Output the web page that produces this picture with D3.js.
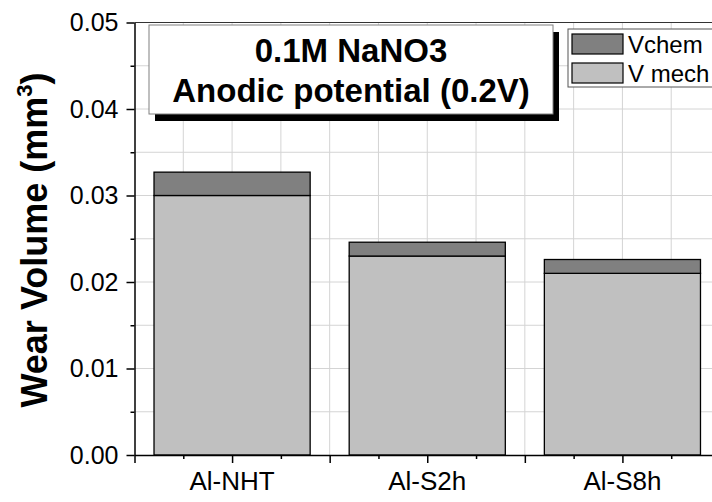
<!DOCTYPE html>
<html>
<head>
<meta charset="utf-8">
<script src="https://cdn.jsdelivr.net/npm/d3@7/dist/d3.min.js"></script>
<style>
  html, body { margin: 0; padding: 0; background: #fff; }
  svg { display: block; font-family: "Liberation Sans", Arial, sans-serif; }
</style>
</head>
<body>
<svg id="chart" width="712" height="502"></svg>
<script>
// values
const categories = ['Al-NHT', 'Al-S2h', 'Al-S8h'];
const vMech = [0.0300, 0.0230, 0.0210];
const vChem = [0.0027, 0.0016, 0.0016];
const yTicks = [0, 0.01, 0.02, 0.03, 0.04, 0.05];
const yMinor = [0.005, 0.015, 0.025, 0.035, 0.045];
const seriesNames = ['Vchem', 'V mech'];
const seriesColors = ['#808080', '#c0c0c0'];
const titleLines = ['0.1M NaNO3', 'Anodic potential (0.2V)'];

const svg = d3.select('#chart');
const plotL = 134.5, plotR = 720, plotT = 22.5, plotB = 455;

// band scale for bars, linear one for the ticks (category i sits at i + 1)
const x = d3.scaleBand().domain(categories).range([plotL, plotR])
  .paddingInner(0.2).paddingOuter(0.1);
const xl = d3.scaleLinear().domain([0.5, 3.5]).range([plotL, plotR]);
const y = d3.scaleLinear().domain([0, 0.05]).range([plotB, plotT]);

// grid
const grid = svg.append('g').attr('stroke', '#d4d4d4').attr('stroke-width', 1);
grid.selectAll('line.h').data(yTicks.concat(yMinor).filter(d => d > 0)).enter()
  .append('line').attr('class', 'h')
  .attr('x1', plotL).attr('x2', 712)
  .attr('y1', d => y(d)).attr('y2', d => y(d));
grid.selectAll('line.v').data(d3.range(0.75, 3.5, 0.25)).enter()
  .append('line').attr('class', 'v')
  .attr('x1', d => xl(d)).attr('x2', d => xl(d))
  .attr('y1', plotT).attr('y2', plotB);

// stacked bars
const stacks = categories.map((c, i) => ({c, mech: vMech[i], chem: vChem[i]}));
const bars = svg.append('g').attr('stroke', '#000').attr('stroke-width', 1.3);
bars.selectAll('rect.mech').data(stacks).enter().append('rect')
  .attr('x', d => x(d.c)).attr('width', x.bandwidth())
  .attr('y', d => y(d.mech)).attr('height', d => y(0) - y(d.mech))
  .attr('fill', seriesColors[1]);
bars.selectAll('rect.chem').data(stacks).enter().append('rect')
  .attr('x', d => x(d.c)).attr('width', x.bandwidth())
  .attr('y', d => y(d.mech + d.chem)).attr('height', d => y(d.mech) - y(d.mech + d.chem))
  .attr('fill', seriesColors[0]);

// top frame line
svg.append('line').attr('x1', plotL).attr('x2', 712).attr('y1', plotT).attr('y2', plotT)
  .attr('stroke', '#333').attr('stroke-width', 1.2);

// y axis
const yAxis = svg.append('g').attr('transform', `translate(${plotL},0)`)
  .call(d3.axisLeft(y).tickValues(yTicks).tickFormat(d3.format('.2f'))
    .tickSize(8).tickPadding(8).tickSizeOuter(0));
svg.append('g').attr('transform', `translate(${plotL},0)`)
  .call(d3.axisLeft(y).tickValues(yMinor).tickFormat('').tickSize(4).tickSizeOuter(0))
  .select('.domain').remove();
yAxis.selectAll('text').attr('font-size', 25).attr('fill', '#000')
  .attr('font-family', '"Liberation Sans", Arial, sans-serif');

// x axis
svg.append('g').attr('transform', `translate(0,${plotB})`)
  .call(d3.axisBottom(xl).tickValues(d3.range(0.5, 3.6, 0.5)).tickFormat('')
    .tickSize(8).tickSizeOuter(0));
svg.append('g').attr('transform', `translate(0,${plotB})`)
  .call(d3.axisBottom(xl).tickValues(d3.range(0.75, 3.5, 0.5)).tickFormat('')
    .tickSize(4).tickSizeOuter(0))
  .select('.domain').remove();
svg.selectAll('.domain, .tick line').attr('stroke', '#000').attr('stroke-width', 1.5);

svg.append('g').selectAll('text').data(categories).enter().append('text')
  .attr('x', d => x(d) + x.bandwidth() / 2).attr('y', 490)
  .attr('text-anchor', 'middle').attr('font-size', 26).text(d => d);

// y title
const yt = svg.append('text').attr('transform', 'translate(47,240) rotate(-90)')
  .attr('text-anchor', 'middle').attr('font-size', 36).attr('font-weight', 'bold');
yt.append('tspan').text('Wear Volume (mm');
yt.append('tspan').attr('font-size', 22).attr('dy', -15).text('3');
yt.append('tspan').attr('dy', 15).text(')');

// title box with shadow
svg.append('rect').attr('x', 155).attr('y', 32).attr('width', 404).attr('height', 89).attr('fill', '#000');
svg.append('rect').attr('x', 149).attr('y', 25).attr('width', 404).attr('height', 89)
  .attr('fill', '#fff').attr('stroke', '#808080').attr('stroke-width', 1);
svg.append('g').selectAll('text').data(titleLines).enter().append('text')
  .attr('x', 351).attr('y', (d, i) => 62 + i * 39.5)
  .attr('text-anchor', 'middle').attr('font-size', 33).attr('font-weight', 'bold')
  .text(d => d);

// legend
const lg = svg.append('g');
lg.append('rect').attr('x', 568).attr('y', 29).attr('width', 160).attr('height', 58)
  .attr('fill', '#fff').attr('stroke', '#555').attr('stroke-width', 1);
seriesNames.forEach((name, i) => {
  lg.append('rect').attr('x', 572).attr('y', 34 + i * 29).attr('width', 51).attr('height', 20)
    .attr('fill', seriesColors[i]).attr('stroke', '#000').attr('stroke-width', 1.2);
  lg.append('text').attr('x', 628).attr('y', 53 + i * 28.5).attr('font-size', 24).text(name);
});
</script>
</body>
</html>
